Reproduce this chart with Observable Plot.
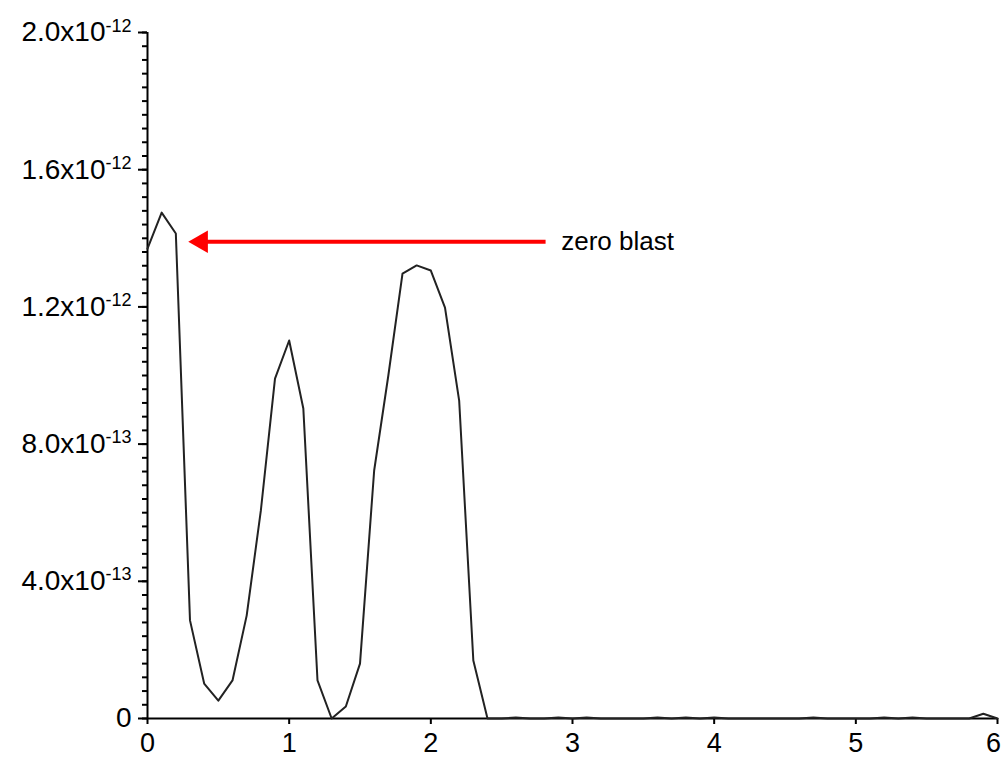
<!DOCTYPE html>
<html><head><meta charset="utf-8">
<script src="https://cdn.jsdelivr.net/npm/d3@7"></script>
<script src="https://cdn.jsdelivr.net/npm/@observablehq/plot@0.6"></script>
<style>html,body{margin:0;padding:0;background:#fff} svg{display:block}</style>
</head><body><div id="chart"></div>
<script>
// ---- data ----
const xValues = [
  0.0, 0.1, 0.2, 0.3, 0.4, 0.5, 0.6, 0.7, 0.8, 0.9,
  1.0, 1.1, 1.2, 1.3, 1.4, 1.5, 1.6, 1.7, 1.8, 1.9,
  2.0, 2.1, 2.2, 2.3, 2.4, 2.5, 2.6, 2.7, 2.8, 2.9,
  3.0, 3.1, 3.2, 3.3, 3.4, 3.5, 3.6, 3.7, 3.8, 3.9,
  4.0, 4.1, 4.2, 4.3, 4.4, 4.5, 4.6, 4.7, 4.8, 4.9,
  5.0, 5.1, 5.2, 5.3, 5.4, 5.5, 5.6, 5.7, 5.8, 5.9, 6.0
];
const yValues = [
  1.370e-12, 1.475e-12, 1.414e-12, 0.286e-12, 0.102e-12, 0.052e-12, 0.111e-12, 0.300e-12, 0.606e-12, 0.991e-12,
  1.102e-12, 0.904e-12, 0.111e-12, 0.000e-12, 0.035e-12, 0.160e-12, 0.723e-12, 1.000e-12, 1.297e-12, 1.321e-12,
  1.306e-12, 1.198e-12, 0.927e-12, 0.169e-12, 0.000e-12, 0.000e-12, 0.003e-12, 0.000e-12, 0.000e-12, 0.003e-12,
  0.000e-12, 0.003e-12, 0.000e-12, 0.000e-12, 0.000e-12, 0.000e-12, 0.003e-12, 0.000e-12, 0.003e-12, 0.000e-12,
  0.003e-12, 0.000e-12, 0.000e-12, 0.000e-12, 0.000e-12, 0.000e-12, 0.000e-12, 0.003e-12, 0.000e-12, 0.000e-12,
  0.000e-12, 0.000e-12, 0.003e-12, 0.000e-12, 0.003e-12, 0.000e-12, 0.000e-12, 0.000e-12, 0.000e-12, 0.014e-12, 0.000e-12
];
const xTickValues = [0, 1, 2, 3, 4, 5, 6];
const xTickLabels = ["0", "1", "2", "3", "4", "5", "6"];
const yTickValues = [0, 4e-13, 8e-13, 1.2e-12, 1.6e-12, 2.0e-12];
const yTickBases = ["0", "4.0x10", "8.0x10", "1.2x10", "1.6x10", "2.0x10"];
const yTickExponents = ["", "-13", "-13", "-12", "-12", "-12"];
const yMinorStep = 4e-14;
const yDomain = [0, 2e-12];
const xDomain = [0, 6];
// annotation
const annotationLabel = ["zero blast"];
const annotationY = [1.39e-12];
const arrowTailX = [2.81];
const arrowShaftEndX = [0.40];
const arrowHeadX = [0.38];
const annotationLabelX = [2.92];

// ---- build ----
const data = xValues.map((x, i) => ({x, y: yValues[i]}));
const minorTicks = d3.range(0, 51).map(i => i * yMinorStep);
const ann = annotationLabel.map((t, i) => ({
  text: t, y: annotationY[i], x1: arrowShaftEndX[i], x2: arrowTailX[i],
  hx: arrowHeadX[i], lx: annotationLabelX[i]
}));
const font = "'Liberation Sans', Arial, sans-serif";

const plot = Plot.plot({
  width: 1003,
  height: 757,
  marginLeft: 147,
  marginRight: 6,
  marginTop: 32,
  marginBottom: 39,
  style: {fontFamily: font, fontSize: "28px", background: "#fff", color: "#000"},
  x: {domain: xDomain},
  y: {domain: yDomain},
  marks: [
    Plot.axisY(minorTicks, {tickSize: 5, strokeWidth: 2, tickFormat: () => "", label: null}),
    Plot.axisY(yTickValues, {
      tickSize: 9, tickPadding: 7, strokeWidth: 2, label: null, fontSize: 28,
      tickFormat: (d) => { const i = yTickValues.indexOf(d); return yTickBases[i] + "|" + yTickExponents[i]; }
    }),
    Plot.axisX(xTickValues, {
      tickSize: 6, tickPadding: 8, strokeWidth: 2, label: null, fontSize: 27,
      tickFormat: (d) => xTickLabels[xTickValues.indexOf(d)]
    }),
    Plot.ruleX([0], {y1: yDomain[0], y2: yDomain[1], stroke: "#000", strokeWidth: 2}),
    Plot.ruleY([0], {x1: xDomain[0], x2: xDomain[1], stroke: "#000", strokeWidth: 2.2}),
    Plot.line(data, {x: "x", y: "y", stroke: "#222", strokeWidth: 2}),
    Plot.link(ann, {x1: "x1", x2: "x2", y1: "y", y2: "y", stroke: "#ff0000", strokeWidth: 4}),
    Plot.dot(ann, {x: "hx", y: "y", symbol: "triangle", rotate: -90, r: 8.4, fill: "#ff0000", stroke: "none"}),
    Plot.text(ann, {x: "lx", y: "y", text: "text", textAnchor: "start", fontSize: 26, fill: "#000", lineAnchor: "middle"})
  ]
});

// superscript exponents in y tick labels
d3.select(plot).selectAll('g[aria-label="y-axis tick label"] text').each(function() {
  const s = this.textContent;
  if (!s.includes("|")) return;
  const [base, exp] = s.split("|");
  const t = d3.select(this);
  t.text(null);
  t.append("tspan").text(base);
  if (exp) t.append("tspan").attr("font-size", 18).attr("dy", "-0.55em").text(exp);
});
// keep the last x tick label inside the picture
const xLabels = d3.select(plot).selectAll('g[aria-label="x-axis tick label"] text').nodes();
if (xLabels.length) d3.select(xLabels[xLabels.length - 1]).attr("dx", -4);

document.getElementById("chart").appendChild(plot);
</script>
</body></html>
